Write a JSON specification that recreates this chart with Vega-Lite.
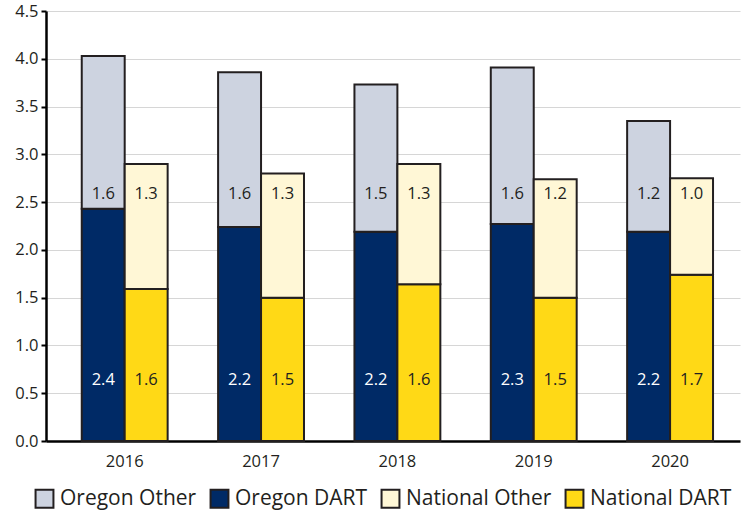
{
  "$schema": "https://vega.github.io/schema/vega-lite/v6.json",
  "width": 694,
  "height": 430,
  "autosize": {"type": "none"},
  "padding": {"left": 46, "top": 11, "right": 10, "bottom": 75},
  "background": "white",
  "config": {
    "font": "Open Sans",
    "view": {"stroke": null},
    "axis": {"labelColor": "#231f20", "labelFont": "Open Sans"}
  },
  "data": {
    "values": [
      {"year": "2016", "group": "Oregon", "type": "DART", "series": "Oregon DART", "value": 2.43},
      {"year": "2016", "group": "Oregon", "type": "Other", "series": "Oregon Other", "value": 1.6},
      {"year": "2016", "group": "National", "type": "DART", "series": "National DART", "value": 1.59},
      {"year": "2016", "group": "National", "type": "Other", "series": "National Other", "value": 1.31},
      {"year": "2017", "group": "Oregon", "type": "DART", "series": "Oregon DART", "value": 2.24},
      {"year": "2017", "group": "Oregon", "type": "Other", "series": "Oregon Other", "value": 1.62},
      {"year": "2017", "group": "National", "type": "DART", "series": "National DART", "value": 1.5},
      {"year": "2017", "group": "National", "type": "Other", "series": "National Other", "value": 1.3},
      {"year": "2018", "group": "Oregon", "type": "DART", "series": "Oregon DART", "value": 2.19},
      {"year": "2018", "group": "Oregon", "type": "Other", "series": "Oregon Other", "value": 1.54},
      {"year": "2018", "group": "National", "type": "DART", "series": "National DART", "value": 1.64},
      {"year": "2018", "group": "National", "type": "Other", "series": "National Other", "value": 1.26},
      {"year": "2019", "group": "Oregon", "type": "DART", "series": "Oregon DART", "value": 2.27},
      {"year": "2019", "group": "Oregon", "type": "Other", "series": "Oregon Other", "value": 1.64},
      {"year": "2019", "group": "National", "type": "DART", "series": "National DART", "value": 1.5},
      {"year": "2019", "group": "National", "type": "Other", "series": "National Other", "value": 1.24},
      {"year": "2020", "group": "Oregon", "type": "DART", "series": "Oregon DART", "value": 2.19},
      {"year": "2020", "group": "Oregon", "type": "Other", "series": "Oregon Other", "value": 1.16},
      {"year": "2020", "group": "National", "type": "DART", "series": "National DART", "value": 1.74},
      {"year": "2020", "group": "National", "type": "Other", "series": "National Other", "value": 1.01}
    ]
  },
  "encoding": {
    "x": {
      "field": "year",
      "type": "nominal",
      "scale": {"paddingInner": 0.37, "paddingOuter": 0.23, "align": 0.57},
      "axis": {
        "title": null,
        "labelAngle": 0,
        "labelFontSize": 16.5,
        "labelPadding": 12,
        "ticks": false,
        "domainColor": "#000000",
        "domainWidth": 2.5
      }
    },
    "xOffset": {
      "field": "group",
      "type": "nominal",
      "scale": {"domain": ["Oregon", "National"], "paddingInner": 0, "paddingOuter": 0}
    }
  },
  "layer": [
    {
      "mark": {"type": "bar", "stroke": "#231f20", "strokeWidth": 2},
      "encoding": {
        "y": {
          "field": "value",
          "type": "quantitative",
          "stack": "zero",
          "scale": {"domain": [0, 4.5], "nice": false},
          "axis": {
            "title": null,
            "values": [0, 0.5, 1, 1.5, 2, 2.5, 3, 3.5, 4, 4.5],
            "format": ".1f",
            "labelFontSize": 16.5,
            "labelPadding": 3,
            "tickSize": 5,
            "tickColor": "#000000",
            "tickWidth": 2,
            "domainColor": "#000000",
            "domainWidth": 2.5,
            "grid": true,
            "gridColor": "#d6d6d6",
            "gridWidth": 1.2
          }
        },
        "order": {"field": "type", "sort": "ascending"},
        "color": {
          "field": "series",
          "type": "nominal",
          "scale": {
            "domain": ["Oregon Other", "Oregon DART", "National Other", "National DART"],
            "range": ["#cdd3e0", "#002a66", "#fff7d6", "#ffd916"]
          },
          "legend": {
            "title": null,
            "orient": "none",
            "direction": "horizontal",
            "legendX": -12,
            "legendY": 477,
            "symbolType": "square",
            "symbolSize": 320,
            "symbolStrokeColor": "#231f20",
            "symbolStrokeWidth": 2,
            "labelFontSize": 21,
            "labelColor": "#231f20",
            "labelFont": "Open Sans",
            "columnPadding": 9,
            "labelOffset": 5
          }
        }
      }
    },
    {
      "transform": [{"filter": "datum.type === 'Other'"}],
      "mark": {"type": "text", "fontSize": 16.5, "baseline": "middle", "color": "#231f20"},
      "encoding": {
        "y": {"datum": 2.58, "type": "quantitative"},
        "text": {"field": "value", "type": "quantitative", "format": ".1f"}
      }
    },
    {
      "transform": [{"filter": "datum.type === 'DART'"}],
      "mark": {"type": "text", "fontSize": 16.5, "baseline": "middle"},
      "encoding": {
        "y": {"datum": 0.64, "type": "quantitative"},
        "text": {"field": "value", "type": "quantitative", "format": ".1f"},
        "color": {
          "condition": {"test": "datum.group === 'Oregon'", "value": "#ffffff"},
          "value": "#231f20"
        }
      }
    }
  ]
}
